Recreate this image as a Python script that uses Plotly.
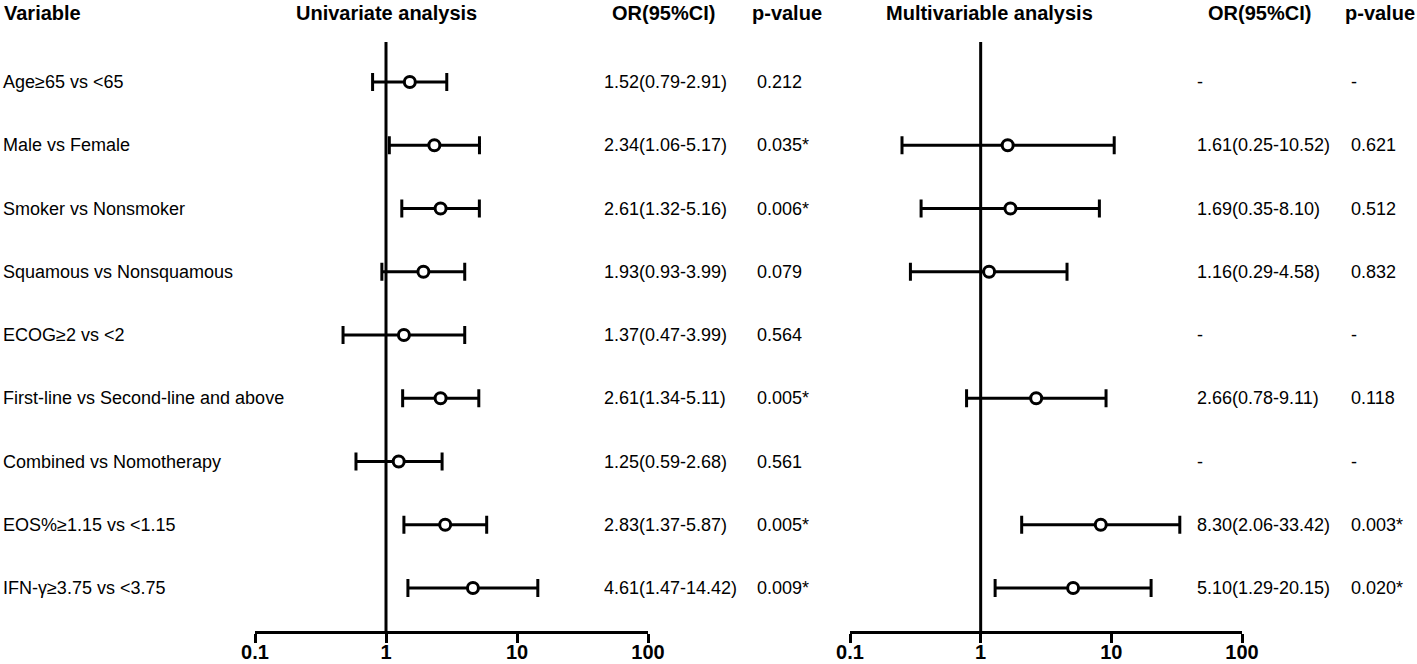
import plotly.graph_objects as go

# ---------------- data ----------------
variables = [
    "Age≥65 vs <65",
    "Male vs Female",
    "Smoker vs Nonsmoker",
    "Squamous vs Nonsquamous",
    "ECOG≥2 vs <2",
    "First-line vs Second-line and above",
    "Combined vs Nomotherapy",
    "EOS%≥1.15 vs <1.15",
    "IFN-γ≥3.75 vs <3.75",
]

uni_or = [1.52, 2.34, 2.61, 1.93, 1.37, 2.61, 1.25, 2.83, 4.61]
uni_lo = [0.79, 1.06, 1.32, 0.93, 0.47, 1.34, 0.59, 1.37, 1.47]
uni_hi = [2.91, 5.17, 5.16, 3.99, 3.99, 5.11, 2.68, 5.87, 14.42]
uni_p = ["0.212", "0.035*", "0.006*", "0.079", "0.564", "0.005*", "0.561", "0.005*", "0.009*"]

multi_or = [None, 1.61, 1.69, 1.16, None, 2.66, None, 8.30, 5.10]
multi_lo = [None, 0.25, 0.35, 0.29, None, 0.78, None, 2.06, 1.29]
multi_hi = [None, 10.52, 8.10, 4.58, None, 9.11, None, 33.42, 20.15]
multi_p = ["-", "0.621", "0.512", "0.832", "-", "0.118", "-", "0.003*", "0.020*"]

tick_vals = [0.1, 1, 10, 100]
tick_text = ["0.1", "1", "10", "100"]

headers_left = ["Variable", "Univariate analysis", "OR(95%CI)", "p-value"]
headers_right = ["Multivariable analysis", "OR(95%CI)", "p-value"]

# ---------------- layout constants ----------------
W, H = 1417, 664
FONT = "Liberation Sans, Arial, Helvetica, sans-serif"
BODY = 18
HEAD = 20


def px(x):
    return x / W


def py(y):
    return 1 - y / H


def fmt_or(o, l, h):
    if o is None:
        return "-"
    return f"{o:.2f}({l:.2f}-{h:.2f})"


rows = list(range(1, len(variables) + 1))

fig = go.Figure()


def add_forest(o, l, h, xa, ya):
    xs, ys, ep, em = [], [], [], []
    for r, oo, ll, hh in zip(rows, o, l, h):
        if oo is None:
            continue
        xs.append(oo)
        ys.append(r)
        ep.append(hh - oo)
        em.append(oo - ll)
    fig.add_trace(go.Scatter(
        x=xs, y=ys, mode="markers", xaxis=xa, yaxis=ya,
        marker=dict(symbol="circle", size=11, color="white",
                    line=dict(color="black", width=3)),
        error_x=dict(type="data", symmetric=False, array=ep, arrayminus=em,
                     color="black", thickness=3, width=9),
        showlegend=False, hoverinfo="x+y",
    ))


add_forest(uni_or, uni_lo, uni_hi, "x", "y")
add_forest(multi_or, multi_lo, multi_hi, "x2", "y2")

# plot-area geometry (pixels)
top_px, axis_px = 42, 631
row1_px, row9_px = 82, 588
step = (row9_px - row1_px) / (len(rows) - 1)
y_top = 1 - (row1_px - top_px) / step
y_bot = len(rows) + (axis_px - row9_px) / step

xaxis_common = dict(
    type="log", range=[-1, 2], tickvals=tick_vals, ticktext=tick_text,
    showline=True, linecolor="black", linewidth=3, mirror=False,
    ticks="outside", ticklen=9, tickwidth=3, tickcolor="black",
    ticklabelstandoff=-8,
    showgrid=False, zeroline=False, automargin=False,
    tickfont=dict(family=FONT, size=HEAD, color="black", weight="bold"),
)
yaxis_common = dict(
    range=[y_bot, y_top], visible=False, showgrid=False, zeroline=False,
    automargin=False, domain=[py(axis_px), py(top_px)],
)

fig.update_layout(
    width=W, height=H,
    margin=dict(l=0, r=0, t=0, b=0, autoexpand=False),
    paper_bgcolor="white", plot_bgcolor="white",
    font=dict(family=FONT, size=BODY, color="black"),
    xaxis=dict(domain=[px(255), px(648)], anchor="y", **xaxis_common),
    xaxis2=dict(domain=[px(850), px(1242)], anchor="y2", **xaxis_common),
    yaxis=dict(anchor="x", **yaxis_common),
    yaxis2=dict(anchor="x2", **yaxis_common),
)

# reference lines at OR = 1
for xr in ("x", "x2"):
    fig.add_shape(type="line", xref=xr, yref=xr.replace("x", "y") + " domain",
                  x0=1, x1=1, y0=0, y1=1,
                  line=dict(color="black", width=3))

# headers
head_y = 13
hdr_pos_left = [(2, "left"), (386, "center"), (663, "center"), (787, "center")]
hdr_pos_right = [(989, "center"), (1259, "center"), (1380, "center")]
for txt, (x, anc) in zip(headers_left + headers_right, hdr_pos_left + hdr_pos_right):
    fig.add_annotation(text=f"<b>{txt}</b>", x=px(x), y=py(head_y), xref="paper", yref="paper",
                       xanchor=anc, yanchor="middle", showarrow=False,
                       font=dict(family=FONT, size=HEAD, color="black"))

# row texts
col_var, col_or1, col_p1, col_or2, col_p2 = 1, 602, 755, 1195, 1349
for r, v, o, l, h, p, mo, ml, mh, mp in zip(rows, variables, uni_or, uni_lo, uni_hi, uni_p,
                                               multi_or, multi_lo, multi_hi, multi_p):
    for x, t in ((col_var, v), (col_or1, fmt_or(o, l, h)), (col_p1, p),
                 (col_or2, fmt_or(mo, ml, mh)), (col_p2, mp)):
        fig.add_annotation(text=t, x=px(x), y=r, xref="paper", yref="y",
                           xanchor="left", yanchor="middle", showarrow=False,
                           font=dict(family=FONT, size=BODY, color="black"))

fig.write_html(
    "out.html",
    config={"displayModeBar": False},
    post_script="document.body.style.margin='0';document.body.style.overflow='hidden';",
)
